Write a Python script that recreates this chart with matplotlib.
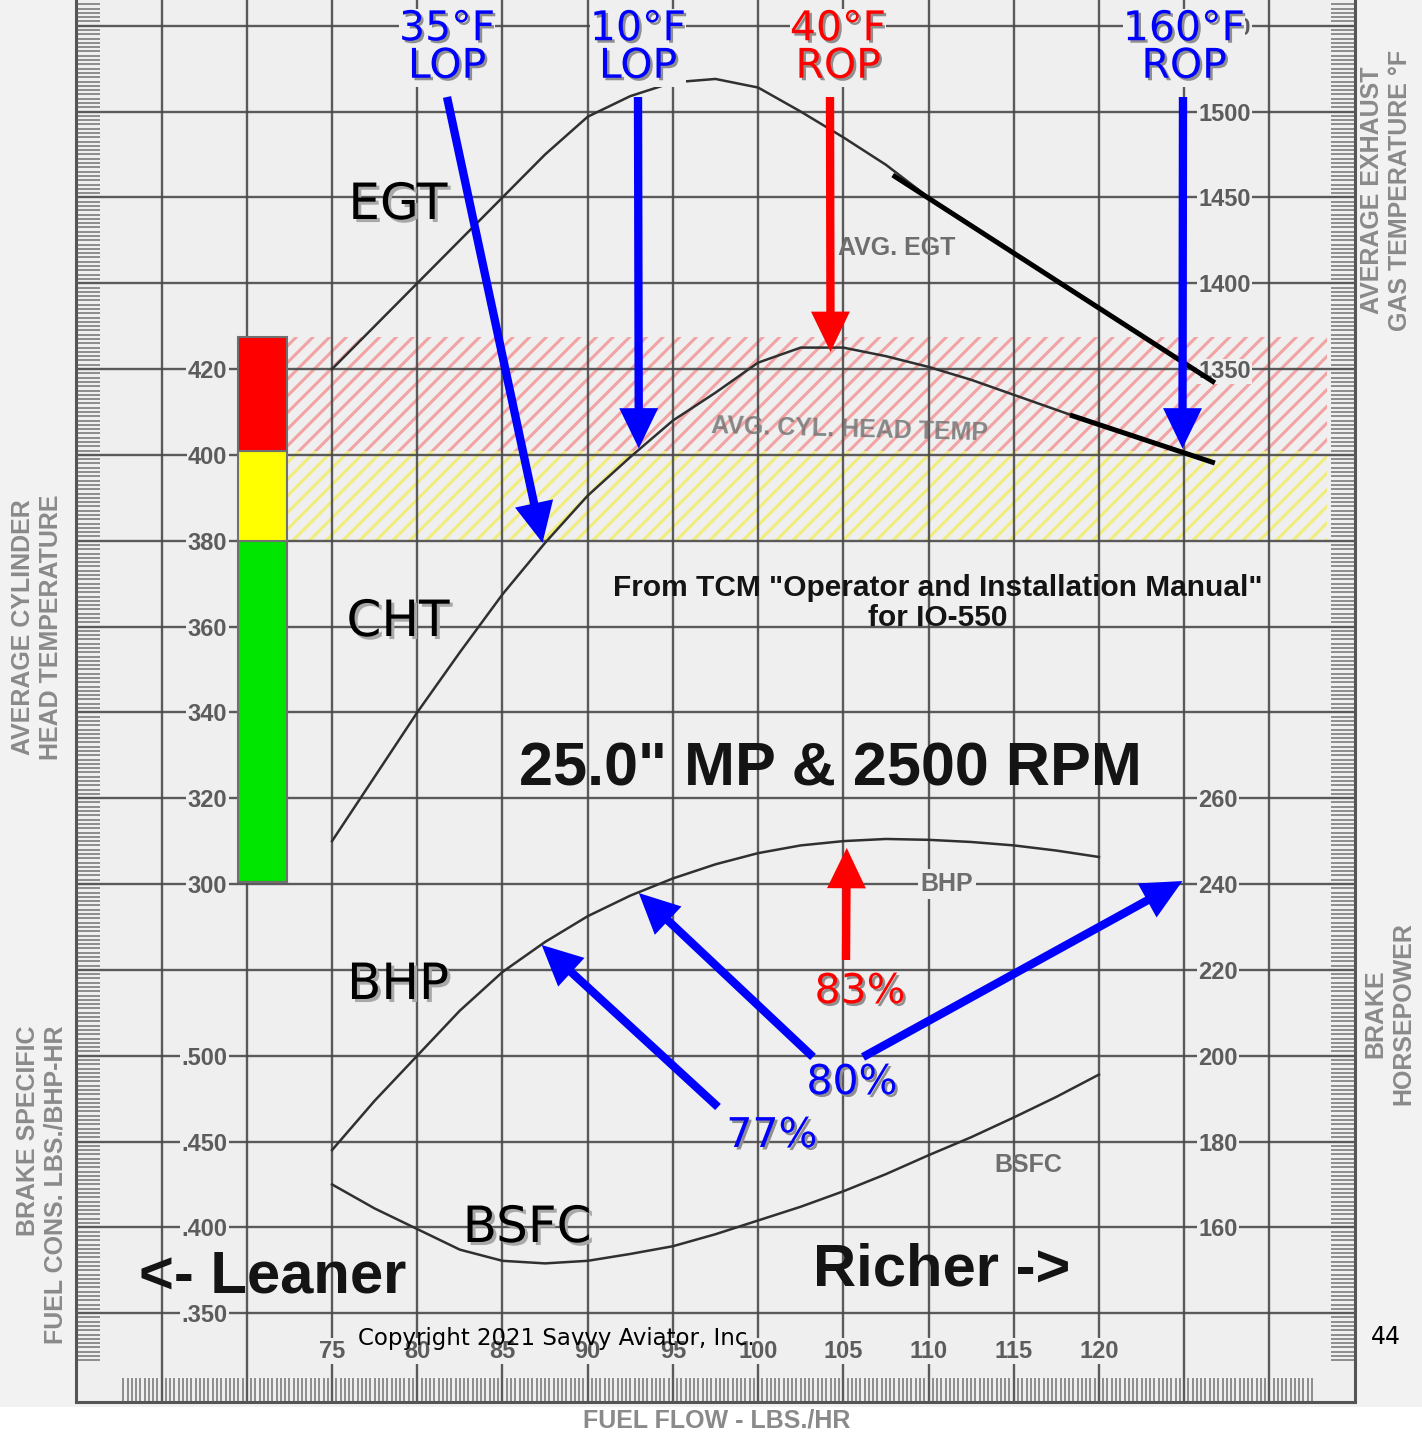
import numpy as np
import matplotlib
matplotlib.use('Agg')
import matplotlib.pyplot as plt
import matplotlib.patheffects as pe
import matplotlib.transforms as mtransforms
from matplotlib.patches import Rectangle
from matplotlib.ticker import FixedLocator

plt.rcParams['hatch.linewidth'] = 2.2

# curves (25.0" MP, 2500 RPM)
fuel_flow = [75, 77.5, 80, 82.5, 85, 87.5, 90, 92.5, 95, 97.5,
             100, 102.5, 105, 107.5, 110, 112.5, 115, 117.5, 120]
egt = [1350, 1375, 1400, 1425, 1450, 1475, 1497, 1509, 1517, 1519,
       1514, 1500, 1485, 1469, 1450, 1434, 1418, 1402, 1386]
cht = [310, 325, 340, 354, 367.5, 379.5, 390.5, 399.5, 408, 414.5,
       421.5, 425, 425, 423, 420.5, 417.5, 414, 410.5, 407]
bhp = [178, 189.5, 200, 210.5, 219.5, 226.5, 232.5, 237.3, 241.3, 244.6,
       247.2, 249, 250, 250.5, 250.3, 249.8, 249, 247.8, 246.3]
bsfc = [425, 411, 399, 387, 380.5, 379, 380.5, 384.5, 389, 396,
        404, 412, 421, 431, 442, 452.5, 464, 476, 489]

# hand drawn straight extensions past 120 lbs/hr
egt_ext_ff = [107.9, 126.8]
egt_ext = [1463, 1342]
cht_ext_ff = [118.3, 126.8]
cht_ext = [409.3, 398.1]

# CHT zones (green / yellow / red)
zone_lo = [300.5, 380, 401]
zone_hi = [380, 401, 427.5]
zone_colors = ['#00e600', '#ffff00', '#ff0000']
zone_hatch = [None, '#f1ed7c', '#f2a4a4']

# ticks
ff_grid = [65, 70, 75, 80, 85, 90, 95, 100, 105, 110, 115, 120, 125, 130]
ff_labels = ['', '', '75', '80', '85', '90', '95', '100', '105', '110', '115', '120', '', '']
cht_grid = [200, 220, 240, 260, 280, 300, 320, 340, 360, 380, 400, 420, 440, 460, 480, 500]
cht_labels = ['', '', '', '', '', '300', '320', '340', '360', '380', '400', '420', '', '', '', '']
egt_ticks = [1350, 1400, 1450, 1500, 1550]
bhp_ticks = [160, 180, 200, 220, 240, 260]
bsfc_ticks = [350, 400, 450, 500]
bsfc_labels = ['.350', '.400', '.450', '.500']

# annotations
temp_notes = ['35°F\nLOP', '10°F\nLOP', '40°F\nROP', '160°F\nROP']
temp_colors = ['#0000ff', '#0000ff', '#ff0000', '#0000ff']
temp_tip_ff = [87.35, 93.0, 104.25, 124.9]
temp_tip_cht = [379.5, 401.5, 424.0, 401.5]
power_notes = ['77%', '80%', '83%']
power_colors = ['#0000ff', '#0000ff', '#ff0000']
power_arrow_colors = ['#0000ff', '#0000ff', '#0000ff', '#ff0000']
power_tip_ff = [87.3, 93.0, 124.9, 105.2]
power_tip_bhp = [225.8, 237.9, 240.7, 248.4]


def to_egt(c):
    return 1350 + (c - 420) * 2.5


def to_bhp(c):
    return c - 60


def to_bsfc(c):
    return 500 + (c - 260) * 2.5


W, H = 1422, 1432
BG = '#efefef'
GRAY = '#5c5c5c'
fig = plt.figure(figsize=(W / 100, H / 100), dpi=100, facecolor='#f2f2f2')
px = mtransforms.Affine2D().scale(1 / W, -1 / H).translate(0, 1) + fig.transFigure
fig.add_artist(Rectangle((0, 0), 1, (H - 1407) / H, transform=fig.transFigure,
                         facecolor='white', edgecolor='none', zorder=-5))

ax = fig.add_axes([76.4 / W, 1 - 1402 / H, 1278.2 / W, 1402 / H])
ax.set_facecolor(BG)
ax_egt = ax.twinx()
ax_bhp = ax.twinx()
ax_bsfc = ax.twinx()

lo, hi = 179.3, 506.0
ax.set_xlim(60, 135)
ax.set_ylim(lo, hi)
ax_egt.set_ylim(to_egt(lo), to_egt(hi))
ax_bhp.set_ylim(to_bhp(lo), to_bhp(hi))
ax_bsfc.set_ylim(to_bsfc(lo), to_bsfc(hi))

# grid + rulers on the main axes
ax.set_xticks(ff_grid, labels=ff_labels)
ax.set_yticks(cht_grid, labels=cht_labels)
ax.xaxis.set_minor_locator(FixedLocator(np.arange(62.75, 132.6, 0.25)))
ax.yaxis.set_minor_locator(FixedLocator(np.arange(189, 506, 1.0)))
ax.tick_params(which='major', length=0, labelsize=17, labelcolor=GRAY,
               labelfontfamily='Liberation Sans')
ax.tick_params(axis='x', which='major', pad=-45)
ax.tick_params(axis='y', which='major', pad=-108.7, right=False, labelright=False)
ax.tick_params(axis='x', which='minor', direction='in', length=17, width=1.1,
               color='#737373', bottom=True, top=False)
ax.tick_params(axis='y', which='minor', direction='in', length=17, width=1.1,
               color='#737373', left=True, right=True)
ax.grid(True, which='major', color='#4a4a4a', lw=1.7, alpha=0.9)
ax.spines['top'].set_visible(False)
for s in ['left', 'right', 'bottom']:
    ax.spines[s].set_color('#555555')
    ax.spines[s].set_linewidth(2.2)

for a in [ax_egt, ax_bhp, ax_bsfc]:
    for s in a.spines.values():
        s.set_visible(False)
ax_egt.set_yticks(egt_ticks)
ax_bhp.set_yticks(bhp_ticks)
ax_bsfc.yaxis.tick_left()
ax_bsfc.set_yticks(bsfc_ticks, labels=bsfc_labels)
for a, pad in [(ax_egt, -112.5), (ax_bhp, -112.5), (ax_bsfc, -108.7)]:
    a.tick_params(axis='y', length=0, pad=pad, labelsize=17, labelcolor=GRAY,
                  labelfontfamily='Liberation Sans')


def box_labels(a):
    for t in a.xaxis.get_major_ticks() + a.yaxis.get_major_ticks():
        for lbl in (t.label1, t.label2):
            lbl.set_fontweight('bold')
            lbl.set_bbox(dict(facecolor=BG, edgecolor='none', pad=1))


for a in [ax, ax_egt, ax_bhp, ax_bsfc]:
    box_labels(a)

# colour bar and hatched zones
ax.bar(70.92, np.subtract(zone_hi, zone_lo), bottom=zone_lo, width=2.88,
       color=zone_colors, edgecolor='#707070', linewidth=1.5, zorder=3)
for zl, zh, hc in zip(zone_lo, zone_hi, zone_hatch):
    if hc:
        ax.fill_between([72.36, 133.4], zl, zh, facecolor='none', edgecolor=hc,
                        hatch='//', linewidth=0, zorder=0.6)

# curves
curve = dict(color='#303030', lw=1.8, solid_joinstyle='round')
ax.plot(fuel_flow, cht, **curve)
ax_egt.plot(fuel_flow, egt, **curve)
ax_bhp.plot(fuel_flow, bhp, **curve)
ax_bsfc.plot(fuel_flow, bsfc, **curve)
ax_egt.plot(egt_ext_ff, egt_ext, color='black', lw=3.6, solid_capstyle='butt')
ax_egt.plot(cht_ext_ff, [to_egt(c) for c in cht_ext], color='black', lw=3.6,
            solid_capstyle='butt')


def note(x, y, s, **kw):
    kw.setdefault('ha', 'center')
    kw.setdefault('va', 'center')
    return fig.text(x, y, s, transform=px, **kw)


shadow = [pe.withSimplePatchShadow(offset=(1.8, -1.8), shadow_rgbFace='#8f8f8f', alpha=1)]
light_shadow = [pe.withSimplePatchShadow(offset=(2.2, -2.2), shadow_rgbFace='#a8a8a8', alpha=1)]
arrow = dict(arrowstyle='simple,head_length=1.45,head_width=1.4,tail_width=0.3',
             mutation_scale=20, edgecolor='none', shrinkA=0, shrinkB=0)

# labels printed on the original scan
scan = dict(color='#6e6e6e', family='Liberation Sans', weight='bold', fontsize=18)
note(897, 248, 'AVG. EGT', **scan)
note(850, 430, 'AVG. CYL. HEAD TEMP', rotation=-1.5, alpha=0.8, **scan)
note(947, 884, 'BHP', bbox=dict(facecolor=BG, edgecolor='none', pad=2), **scan)
note(1028, 1165, 'BSFC', **scan)

axis_lbl = dict(color='#8a8a8a', family='Liberation Sans', weight='bold', fontsize=18)
note(37, 627, 'AVERAGE CYLINDER\nHEAD TEMPERATURE', rotation=90, **axis_lbl)
note(42, 1185, 'BRAKE SPECIFIC\nFUEL CONS. LBS./BHP-HR', rotation=90,
     multialignment='right', **axis_lbl)
note(1386, 190, 'AVERAGE EXHAUST\nGAS TEMPERATURE °F', rotation=90, **axis_lbl)
note(1389, 1014, 'BRAKE\nHORSEPOWER', rotation=90, **axis_lbl)
note(717, 1421, 'FUEL FLOW - LBS./HR', **axis_lbl)

bold = dict(color='#141414', family='Liberation Sans', weight='bold')
note(938, 603, 'From TCM "Operator and Installation Manual"\nfor IO-550',
     fontsize=21.5, linespacing=1.1, **bold)
note(830, 770, '25.0" MP & 2500 RPM', fontsize=44, **bold)
note(273, 1277, '<- Leaner', fontsize=43, **bold)
note(942, 1270, 'Richer ->', fontsize=43, **bold)
note(556, 1338, 'Copyright 2021 Savvy Aviator, Inc.', fontsize=16.5, color='black')
note(1386, 1337, '44', fontsize=17, color='black')

for x, y, s in [(398, 205, 'EGT'), (398, 622, 'CHT'), (398, 985, 'BHP'), (527, 1228, 'BSFC')]:
    note(x, y, s, fontsize=36, color='black', path_effects=light_shadow)

# temperature call-outs
for s, c, x, tx, ff, val in zip(temp_notes, temp_colors, [447, 638, 838, 1184],
                                [447, 638, 830, 1183], temp_tip_ff, temp_tip_cht):
    note(x, 48, s, fontsize=29.5, color=c, linespacing=0.92, path_effects=shadow,
         bbox=dict(facecolor=BG, edgecolor='none', pad=0))
    ax_bsfc.annotate('', xy=(ff, val), xycoords=ax.transData, xytext=(tx, 97),
                     textcoords=px, arrowprops=dict(facecolor=c, **arrow))

# power call-outs
for s, c, (x, y) in zip(power_notes, power_colors, [(772, 1136), (852, 1083), (860, 992)]):
    note(x, y, s, fontsize=29.5, color=c, path_effects=shadow)
for c, tail, ff, val in zip(power_arrow_colors, [(718, 1107), (813, 1057), (863, 1057), (846, 960)],
                            power_tip_ff, power_tip_bhp):
    ax_bsfc.annotate('', xy=(ff, val), xycoords=ax_bhp.transData, xytext=tail,
                     textcoords=px, arrowprops=dict(facecolor=c, **arrow))

fig.savefig('out.png', dpi=100, facecolor=fig.get_facecolor())
